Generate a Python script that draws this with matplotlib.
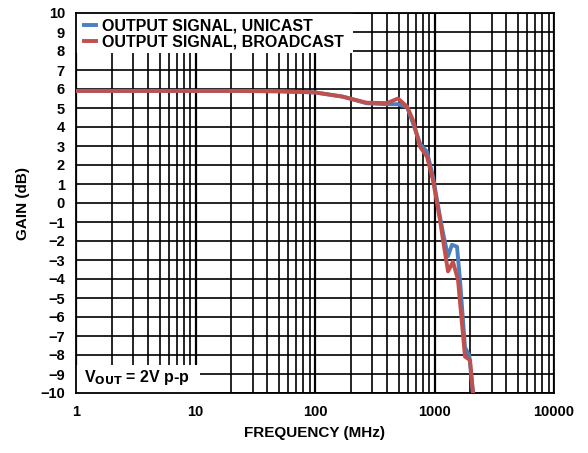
import matplotlib
matplotlib.use("Agg")
import matplotlib.pyplot as plt
from matplotlib.ticker import LogLocator, NullFormatter, FixedLocator
from matplotlib.patches import Rectangle
import numpy as np

plt.rcParams['font.family'] = ['Liberation Sans', 'DejaVu Sans']

freq_uni = [1, 2, 5, 10, 20, 50, 100, 170, 270, 400, 495, 590, 660, 760, 865, 970, 1110, 1180, 1297, 1400, 1543, 1634, 1800, 1950, 2100]
gain_uni = [5.9, 5.9, 5.9, 5.9, 5.9, 5.88, 5.82, 5.6, 5.25, 5.2, 5.2, 5.05, 4.2, 3.1, 2.7, 1.4, -0.7, -1.6, -2.8, -2.2, -2.3, -4.05, -7.6, -8.0, -10.0]

freq_bro = [1, 2, 5, 10, 20, 50, 100, 170, 270, 400, 495, 590, 660, 757, 865, 971, 1112, 1178, 1297, 1428, 1573, 1800, 1982, 2100]
gain_bro = [5.9, 5.9, 5.9, 5.9, 5.9, 5.88, 5.82, 5.6, 5.28, 5.26, 5.5, 5.07, 4.37, 2.96, 2.44, 1.2, -0.9, -1.95, -3.6, -3.1, -4.05, -8.09, -8.26, -10.0]

y_ticks = list(range(-10, 11))
x_ticks = [1, 10, 100, 1000, 10000]
x_labels = ['1', '10', '100', '1000', '10000']

fig = plt.figure(figsize=(5.88, 4.53), dpi=100)
ax = fig.add_axes([76/588, 1 - 393/453, (554-76)/588, (393-13)/453])

ax.set_xscale('log')
ax.set_xlim(1, 10000)
ax.set_ylim(-10, 10)

ax.xaxis.set_major_locator(FixedLocator(x_ticks))
ax.set_xticklabels(x_labels)
ax.xaxis.set_minor_locator(LogLocator(base=10, subs=np.arange(2, 10)))
ax.xaxis.set_minor_formatter(NullFormatter())
ax.set_yticks(y_ticks)
ax.set_yticklabels([str(v).replace('-', '\u2212') for v in y_ticks])

ax.grid(True, which='major', axis='x', color='black', linewidth=1.6)
ax.grid(True, which='major', axis='y', color='black', linewidth=1.2)
ax.grid(True, which='minor', axis='x', color='black', linewidth=1.2)
ax.tick_params(which='both', length=0, labelsize=10.5)
ax.tick_params(axis='y', pad=8)
ax.tick_params(axis='x', pad=9)
for lab in ax.get_xticklabels() + ax.get_yticklabels():
    lab.set_fontweight('bold')
for s in ax.spines.values():
    s.set_linewidth(1.3)

l1, = ax.plot(freq_uni, gain_uni, color='#4a7fc1', linewidth=2.8, label='OUTPUT SIGNAL, UNICAST', zorder=3)
l2, = ax.plot(freq_bro, gain_bro, color='#c0504d', linewidth=2.8, label='OUTPUT SIGNAL, BROADCAST', zorder=4)

# white background behind the legend
ax.add_patch(Rectangle((0, 1 - (53 - 13) / 380), (353 - 76) / 478, (53 - 13) / 380,
                       transform=ax.transAxes, facecolor='white', edgecolor='none', zorder=2.5))
leg = ax.legend(loc='upper left', frameon=False, borderaxespad=0.0, handlelength=0.75, handletextpad=0.35,
                labelspacing=0.05, borderpad=0.35, prop={'weight': 'bold', 'size': 11.5},
                bbox_to_anchor=(0.005, 1.0))
leg.set_zorder(5)

# white background behind the V_OUT note
ax.add_patch(Rectangle((0, 0), (200 - 76) / 478, (393 - 365) / 380,
                       transform=ax.transAxes, facecolor='white', edgecolor='none', zorder=2.5))
ax.text(1.17, -9.2, r'V$_{\mathbf{OUT}}$ = 2V p-p', fontsize=11.5, fontweight='bold', va='center', ha='left',
        zorder=6)

ax.set_xlabel('FREQUENCY (MHz)', fontsize=11, fontweight='bold', labelpad=5)
ax.set_ylabel('GAIN (dB)', fontsize=11, fontweight='bold', labelpad=7)

fig.savefig('out.png', dpi=100)
